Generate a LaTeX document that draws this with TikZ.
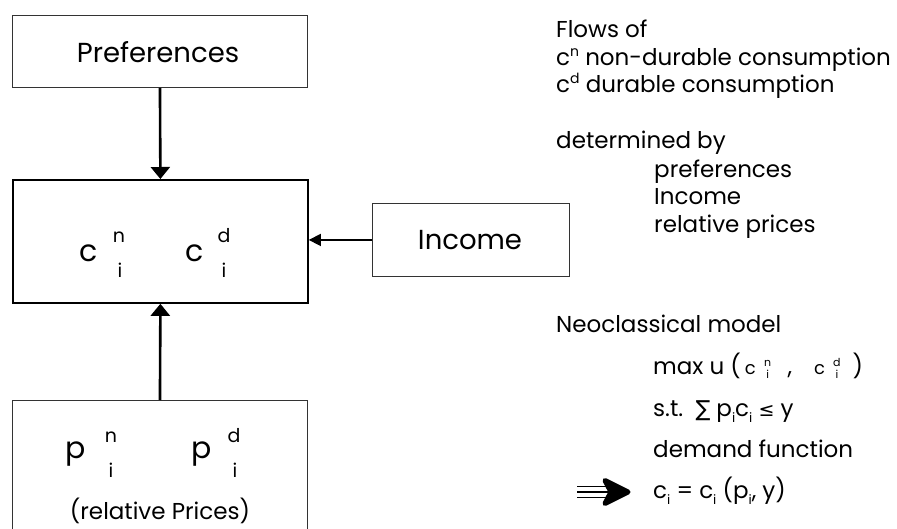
\documentclass[tikz,border=0pt]{standalone}
\usepackage{fontspec}
\setmainfont{Poppins}
\newfontfamily\symfont{DejaVu Sans}
\usetikzlibrary{arrows.meta}

% a symbol with a small index stacked above and below, to its right
\newcommand{\stk}[5]{% #1 size, #2 raise of top, #3 drop of bottom, #4 top, #5 bottom
  {\fontsize{#1}{#1}\selectfont
   \makebox[0pt][l]{\makebox[0.7em]{\raisebox{#2}{#4}}}%
   \makebox[0.7em]{\raisebox{-#3}{#5}}}}
\newcommand{\lowidx}[1]{\raisebox{-0.28em}{\fontsize{13}{13}\selectfont #1}}
\newcommand{\upidx}[1]{\raisebox{0.42em}{\fontsize{14}{14}\selectfont #1}}
\newcommand{\smallc}{{\fontsize{18}{18}\selectfont c}}

\begin{document}
\begin{tikzpicture}[x=1pt,y=-1pt,
  thinbox/.style={draw=black!80, line width=0.9pt},
  thickbox/.style={draw=black, line width=1.8pt},
  flow/.style={-{Triangle[length=12pt,width=19pt]}, line width=2.6pt},
  sideflow/.style={-{Triangle[length=12pt,width=12pt]}, line width=1.6pt},
  boxlabel/.style={font=\fontsize{27.5}{27.5}\selectfont, inner sep=0pt},
  bigsym/.style={font=\fontsize{30}{30}\selectfont, inner sep=0pt, anchor=base},
  idx/.style={font=\fontsize{19}{19}\selectfont, inner sep=0pt, anchor=base},
  rtext/.style={font=\fontsize{23}{23}\selectfont, inner sep=0pt, anchor=base west}]
\useasboundingbox (0,0) rectangle (897,529);
\clip (0,0) rectangle (897,529);

% boxes
\node[thinbox, minimum width=295pt, minimum height=72pt, anchor=north west, inner sep=0pt] (pref) at (12,15) {};
\node[boxlabel] (preftext) at (158,52) {Preferences};
\node[thickbox, minimum width=295pt, minimum height=123pt, anchor=north west, inner sep=0pt] (cons) at (12,179) {};
\node[thinbox, minimum width=197pt, minimum height=73pt, anchor=north west, inner sep=0pt] (income) at (372,203) {};
\node[boxlabel] (incometext) at (470,240) {Income};
\node[thinbox, minimum width=295pt, minimum height=160pt, anchor=north west, inner sep=0pt] (prices) at (12,400) {};

% consumption flows
\node[bigsym] (cn) at (89,262) {c};
\node[idx] (cnup) at (119,243) {n};
\node[idx] (cnlo) at (120,278) {i};
\node[bigsym] (cd) at (195,262) {c};
\node[idx] (cdup) at (224,243) {d};
\node[idx] (cdlo) at (224,278) {i};

% prices
\node[bigsym] (pn) at (76,458) {p};
\node[idx] (pnup) at (111,442) {n};
\node[idx] (pnlo) at (111,477) {i};
\node[bigsym] (pd) at (202,458) {p};
\node[idx] (pdup) at (234,442) {d};
\node[idx] (pdlo) at (235,477) {i};
\node[font=\fontsize{23}{23}\selectfont, inner sep=0pt, anchor=base] (rel) at (160,519) {(relative Prices)};

% connectors
\draw[flow] (pref.south) -- (cons.north);
\draw[flow] (prices.north) -- (cons.south);
\draw[sideflow] (income.west) -- (income.west -| cons.east);

% explanatory text
\node[rtext] (t1) at (556,38) {Flows of};
\node[rtext] (t2) at (556,66) {c\upidx{n} non-durable consumption};
\node[rtext] (t3) at (556,93) {c\upidx{d} durable consumption};
\node[rtext] (t4) at (556,149) {determined by};
\node[rtext] (t5) at (654,178) {preferences};
\node[rtext] (t6) at (654,205) {Income};
\node[rtext] (t7) at (654,233) {relative prices};
\node[rtext] (t8) at (556,333) {Neoclassical model};
\node[rtext] (t9) at (653,374) {max u (\hspace{4pt}\smallc\hspace{8pt}\stk{11}{0.7em}{0.45em}{n}{i}\hspace{16pt},\hspace{22pt}\smallc\hspace{8pt}\stk{11}{0.7em}{0.45em}{d}{i}\hspace{12pt})};
\node[rtext] (t10) at (653,416) {s.t.\ \ {\symfont\fontsize{22}{22}\selectfont ∑} p\lowidx{i}c\lowidx{i} {\symfont\fontsize{19}{19}\selectfont ≤} y};
\node[rtext] (t11) at (653,457) {demand function};
\node[rtext] (t12) at (653,498) {c\lowidx{i} = c\lowidx{i} (p\lowidx{i}, y)};

% implication arrow
\draw[line width=1.6pt] (577,486.5) -- (610,486.5)
                        (577,492) -- (610,492)
                        (577,497.5) -- (610,497.5);
\filldraw[line width=5pt, line join=round] (605,480.5) -- (628,492) -- (605,503.5) -- (611,492) -- cycle;
\end{tikzpicture}
\end{document}
